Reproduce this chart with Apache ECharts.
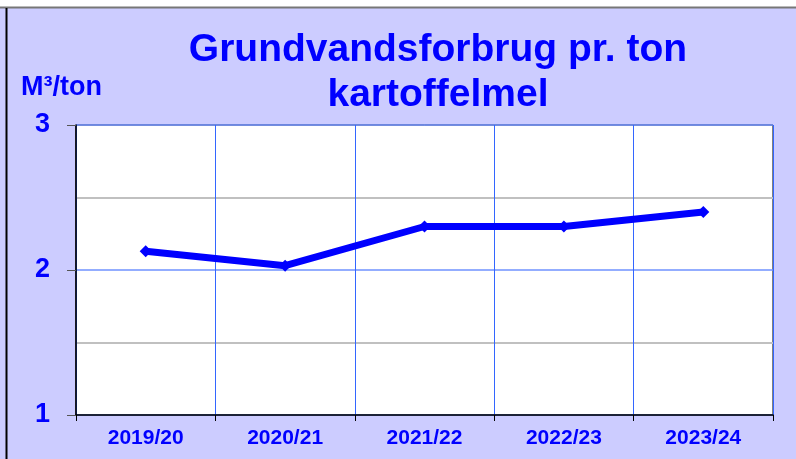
<!DOCTYPE html>
<html>
<head>
<meta charset="utf-8">
<script src="https://cdn.jsdelivr.net/npm/echarts@6/dist/echarts.min.js"></script>
<style>
  html, body { margin: 0; padding: 0; background: #fff; }
  #chart { width: 796px; height: 459px; }
</style>
</head>
<body>
<div id="chart"></div>
<script>
// saesoner og vandforbrug (m3 pr. ton kartoffelmel)
var seasons = ['2019/20', '2020/21', '2021/22', '2022/23', '2023/24']
var waterPerTon = [2.13, 2.03, 2.3, 2.3, 2.4]
var yTicks = [1, 2, 3]

var blue = '#0000ff'
var font = 'Liberation Sans, Arial, sans-serif'

var chart = echarts.init(document.getElementById('chart'))
chart.setOption({
  backgroundColor: '#ccccff',
  animation: false,
  title: {
    text: 'Grundvandsforbrug pr. ton\nkartoffelmel',
    left: 433,
    top: 23,
    textAlign: 'center',
    textStyle: {
      color: blue,
      fontFamily: font,
      fontWeight: 'bold',
      fontSize: 39,
      lineHeight: 45
    }
  },
  graphic: [
    { type: 'rect', shape: { x: 0, y: 0, width: 796, height: 7 }, style: { fill: '#fff' } },
    { type: 'line', shape: { x1: 0, y1: 7.5, x2: 796, y2: 7.5 }, style: { stroke: '#777', lineWidth: 2 } },
    { type: 'line', shape: { x1: 6.5, y1: 8, x2: 6.5, y2: 459 }, style: { stroke: '#000', lineWidth: 2 } }
  ],
  grid: {
    left: 76,
    right: 23,
    top: 125,
    bottom: 44,
    show: true,
    backgroundColor: '#fff',
    borderColor: '#000',
    borderWidth: 1
  },
  xAxis: {
    type: 'category',
    data: seasons,
    boundaryGap: true,
    axisLine: { lineStyle: { color: '#000', width: 1.5 } },
    axisTick: { show: true, length: 6, lineStyle: { color: '#000' } },
    axisLabel: {
      color: blue,
      fontFamily: font,
      fontWeight: 'bold',
      fontSize: 21,
      margin: 13
    },
    splitLine: { show: true, lineStyle: { color: '#3366ff', width: 1 } }
  },
  yAxis: {
    type: 'value',
    min: 1,
    max: 3,
    interval: 1,
    name: 'M³/ton',
    nameLocation: 'end',
    nameGap: 24,
    nameTextStyle: {
      color: blue,
      fontFamily: font,
      fontWeight: 'bold',
      fontSize: 27,
      align: 'center',
      padding: [0, 29, 0, 0]
    },
    axisLine: { show: true, lineStyle: { color: '#000', width: 1.5 } },
    axisTick: { show: true, length: 9, lineStyle: { color: '#555' } },
    axisLabel: {
      color: blue,
      fontFamily: font,
      fontWeight: 'bold',
      fontSize: 27,
      margin: 26,
      formatter: function (v) { return yTicks.indexOf(v) >= 0 ? String(v) : '' }
    },
    splitLine: { show: true, lineStyle: { color: '#6f92ff', width: 1.5 } },
    minorTick: { show: false, splitNumber: 2 },
    minorSplitLine: { show: true, lineStyle: { color: '#c0c0c0', width: 2 } }
  },
  series: [{
    type: 'line',
    data: waterPerTon,
    symbol: 'diamond',
    symbolSize: 12,
    lineStyle: { color: blue, width: 7 },
    itemStyle: { color: blue }
  }]
})
</script>
</body>
</html>
